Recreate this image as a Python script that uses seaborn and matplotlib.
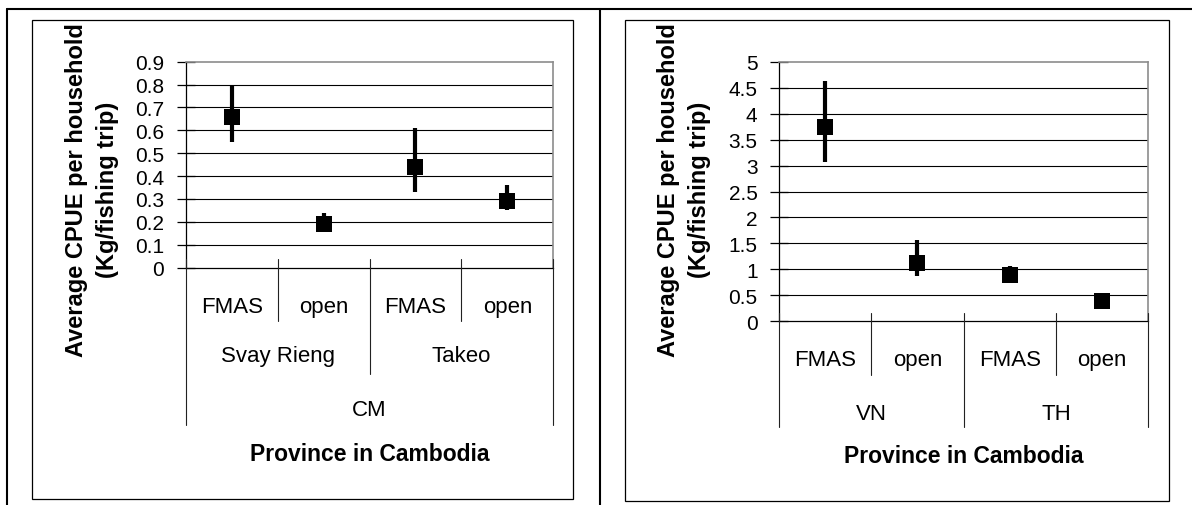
import numpy as np
import pandas as pd
import matplotlib
matplotlib.use("Agg")
import matplotlib.pyplot as plt
import seaborn as sns
from matplotlib.lines import Line2D
from matplotlib.patches import Rectangle

# ---- data: Cambodia provinces ----
cm_province = ["Svay Rieng", "Svay Rieng", "Takeo", "Takeo"]
cm_access = ["FMAS", "open", "FMAS", "open"]
cm_country = "CM"
cm_mean = [0.66, 0.19, 0.44, 0.29]
cm_low = [0.55, 0.17, 0.33, 0.25]
cm_high = [0.80, 0.24, 0.61, 0.36]
cm_ticks = [0.0, 0.1, 0.2, 0.3, 0.4, 0.5, 0.6, 0.7, 0.8, 0.9]
cm_tick_labels = ["0", "0.1", "0.2", "0.3", "0.4", "0.5", "0.6", "0.7", "0.8", "0.9"]

# ---- data: Vietnam / Thailand ----
vt_country = ["VN", "VN", "TH", "TH"]
vt_access = ["FMAS", "open", "FMAS", "open"]
vt_mean = [3.75, 1.13, 0.90, 0.40]
vt_low = [3.07, 0.87, 0.73, 0.35]
vt_high = [4.63, 1.56, 1.06, 0.45]
vt_ticks = [0, 0.5, 1, 1.5, 2, 2.5, 3, 3.5, 4, 4.5, 5]
vt_tick_labels = ["0", "0.5", "1", "1.5", "2", "2.5", "3", "3.5", "4", "4.5", "5"]

y_title = "Average CPUE per household\n(Kg/fishing trip)"
x_title = "Province in Cambodia"

sns.set_style("white")
plt.rcParams["font.family"] = ["Liberation Sans", "DejaVu Sans"]

W, H = 1192, 506
fig = plt.figure(figsize=(W / 100, H / 100), dpi=100)
fig.patch.set_facecolor("white")


def fx(px):
    return px / W


def fy(py):
    return 1 - py / H


def add_axes_px(x0, y0, x1, y1):
    return fig.add_axes([fx(x0), fy(y1), fx(x1) - fx(x0), (y1 - y0) / H])


def draw_panel(ax, access, groups, top_label, mean, low, high, ticks, tick_labels,
               inner_depth, group_depth, outer_depth, lvl_base, title_base):
    n = len(mean)
    df = pd.DataFrame({"pos": np.arange(n), "mean": mean, "low": low, "high": high})
    ax.set_facecolor("white")

    # interior gridlines
    for t in ticks[1:-1]:
        ax.axhline(t, color="black", lw=0.8, zorder=1)

    # error bars and square markers
    ax.vlines(df["pos"], df["low"], df["high"], color="black", lw=3.0, zorder=3)
    sns.scatterplot(data=df, x="pos", y="mean", marker="s", s=117, color="black",
                    linewidth=0, ax=ax, zorder=4, legend=False)

    ax.set_xlim(-0.5, n - 0.5)
    ax.set_ylim(ticks[0], ticks[-1])
    ax.set_yticks(ticks, tick_labels)
    ax.set_xticks([])
    ax.set_xlabel("")
    ax.set_ylabel("")
    ax.tick_params(axis="y", direction="inout", length=13, width=0.9, pad=8.9,
                   labelsize=15, colors="black", left=True)

    for s in ("top", "right"):
        ax.spines[s].set_color("#8c8c8c")
        ax.spines[s].set_linewidth(1.2)
    for s in ("left", "bottom"):
        ax.spines[s].set_color("black")
        ax.spines[s].set_linewidth(0.9)

    h_px = ax.get_position().height * H

    def frac(px):
        return -px / h_px

    xt = ax.get_xaxis_transform()

    # category dividers below the axis
    for i in range(n + 1):
        xb = i - 0.5
        if i == 0 or i == n:
            depth = outer_depth
        elif i == n // 2:
            depth = group_depth
        else:
            depth = inner_depth
        ax.plot([xb, xb], [frac(-8.7), frac(depth)], transform=xt, color="#222222",
                lw=0.8, clip_on=False, zorder=5)

    # access-type labels
    for i, lab in enumerate(access):
        ax.text(i, frac(lvl_base[0]), lab, transform=xt, ha="center", va="baseline",
                fontsize=16, color="black")
    # group labels
    for g0 in range(0, n, 2):
        ax.text(g0 + 0.5, frac(lvl_base[1]), groups[g0], transform=xt, ha="center",
                va="baseline", fontsize=16, color="black")
    if top_label:
        ax.text((n - 1) / 2, frac(lvl_base[2]), top_label, transform=xt, ha="center",
                va="baseline", fontsize=16, color="black")

    ax.text(0.5, frac(title_base), x_title, transform=ax.transAxes, ha="center",
            va="baseline", fontsize=16.5, fontweight="bold", color="black")


ax1 = add_axes_px(185.7, 62.7, 553.3, 268.5)
draw_panel(ax1, cm_access, cm_province, cm_country, cm_mean, cm_low, cm_high,
           cm_ticks, cm_tick_labels, 53.8, 106.5, 157.2, (44.2, 93.5, 148.0), 192.5)

ax2 = add_axes_px(779.0, 62.7, 1148.3, 322.3)
draw_panel(ax2, vt_access, vt_country, None, vt_mean, vt_low, vt_high,
           vt_ticks, vt_tick_labels, 53.7, 106.0, 106.0, (44.0, 97.5, 0), 141.0)

# rotated two-line y titles
for cx in (92.0, 684.0):
    fig.text(fx(cx), fy(190.0), y_title, rotation=90, ha="center", va="center",
             fontsize=17, fontweight="bold", color="black", linespacing=1.42)

# surrounding table frame
for (x0, y0, x1, y1) in [(6.7, 10, W, 10), (6.7, 10, 6.7, H), (600, 10, 600, H)]:
    fig.add_artist(Line2D([fx(x0), fx(x1)], [fy(y0), fy(y1)], transform=fig.transFigure,
                          color="black", lw=1.5))

# chart boxes
for (x0, y0, x1, y1) in [(31.7, 20.7, 573.0, 500.0), (625.0, 20.7, 1169.0, 501.7)]:
    fig.add_artist(Rectangle((fx(x0), fy(y1)), fx(x1) - fx(x0), (y1 - y0) / H,
                             transform=fig.transFigure, fill=False, edgecolor="black",
                             lw=0.9))

fig.savefig("out.png", dpi=100, facecolor="white")
